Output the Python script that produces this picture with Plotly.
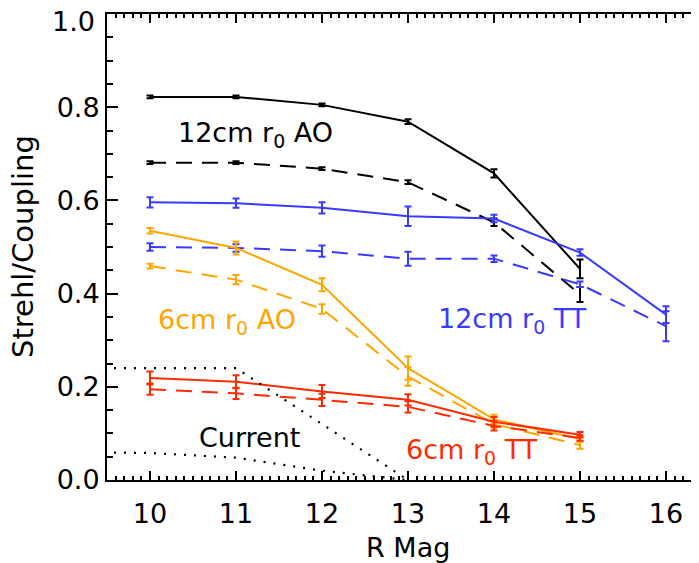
import plotly.graph_objects as go

# ---------------- data ----------------
mag = [10, 11, 12, 13, 14, 15]
mag16 = [10, 11, 12, 13, 14, 15, 16]

ao12_solid = [0.822, 0.822, 0.805, 0.769, 0.658, 0.453]
ao12_solid_err = [0.003, 0.003, 0.003, 0.005, 0.009, 0.020]
ao12_dash = [0.681, 0.681, 0.668, 0.639, 0.553, 0.398]
ao12_dash_err = [0.003, 0.003, 0.003, 0.004, 0.008, 0.016]

tt12_solid = [0.596, 0.594, 0.584, 0.566, 0.561, 0.488, 0.355]
tt12_solid_err = [0.011, 0.010, 0.012, 0.021, 0.008, 0.007, 0.018]
tt12_dash = [0.500, 0.498, 0.491, 0.475, 0.475, 0.420, 0.330]
tt12_dash_err = [0.008, 0.008, 0.012, 0.015, 0.007, 0.006, 0.032]

ao6_solid = [0.535, 0.498, 0.419, 0.240, 0.130, 0.088]
ao6_solid_err = [0.006, 0.014, 0.014, 0.025, 0.010, 0.006]
ao6_dash = [0.459, 0.430, 0.367, 0.222, 0.120, 0.075]
ao6_dash_err = [0.005, 0.010, 0.010, 0.020, 0.008, 0.008]

tt6_solid = [0.219, 0.211, 0.190, 0.172, 0.125, 0.097]
tt6_solid_err = [0.014, 0.014, 0.014, 0.012, 0.010, 0.006]
tt6_dash = [0.195, 0.186, 0.172, 0.157, 0.116, 0.090]
tt6_dash_err = [0.012, 0.012, 0.013, 0.012, 0.010, 0.006]

cur_mag = [9, 10, 11, 12, 13]
cur_upper = [0.240, 0.240, 0.240, 0.120, 0.000]
cur_lower = [0.060, 0.058, 0.048, 0.020, 0.000]

xticks = [10, 11, 12, 13, 14, 15, 16]
yticks = [0.0, 0.2, 0.4, 0.6, 0.8, 1.0]
ytick_text = ["0.0", "0.2", "0.4", "0.6", "0.8", ""]

BLACK = "#000000"
BLUE = "#3a3aff"
ORANGE = "#ffa500"
RED = "#ff2a00"
FONT = "DejaVu Sans"

# figure sits 8px in from the page corner (default body margin)
OFF = 8
W, H = 699 - OFF, 563 - OFF
L, R, T = 107 - OFF, 0, 14 - OFF
B = H - (480 - OFF)
PW = W - L - R
PH = H - T - B

fig = go.Figure()


def add_series(x, y, err, color, dash):
    fig.add_trace(go.Scatter(
        x=x, y=y, mode="lines",
        line=dict(color=color, width=2, dash=dash),
        error_y=dict(type="data", array=err, visible=True, color=color,
                     thickness=2, width=3.5),
        showlegend=False, hoverinfo="skip"))


DASH = "16px,10px"
add_series(mag, ao12_solid, ao12_solid_err, BLACK, "solid")
add_series(mag, ao12_dash, ao12_dash_err, BLACK, DASH)
add_series(mag16, tt12_solid, tt12_solid_err, BLUE, "solid")
add_series(mag16, tt12_dash, tt12_dash_err, BLUE, DASH)
add_series(mag, ao6_solid, ao6_solid_err, ORANGE, "solid")
add_series(mag, ao6_dash, ao6_dash_err, ORANGE, DASH)
add_series(mag, tt6_solid, tt6_solid_err, RED, "solid")
add_series(mag, tt6_dash, tt6_dash_err, RED, DASH)

for yy in (cur_upper, cur_lower):
    fig.add_trace(go.Scatter(
        x=cur_mag, y=yy, mode="lines",
        line=dict(color=BLACK, width=2.2, dash="2px,8px"),
        showlegend=False, hoverinfo="skip"))

labels = [
    ("12cm r<sub>0</sub> AO", 11.23, 0.742, BLACK),
    ("6cm r<sub>0</sub> AO", 10.89, 0.340, ORANGE),
    ("12cm r<sub>0</sub> TT", 14.215, 0.342, BLUE),
    ("6cm r<sub>0</sub> TT", 13.74, 0.062, RED),
    ("Current", 11.16, 0.091, BLACK),
]
annotations = []
for txt, x, y, c in labels:
    annotations.append(dict(text=txt, x=x, y=y, xref="x", yref="y",
                             xanchor="center", yanchor="middle",
                             showarrow=False,
                             font=dict(family=FONT, size=27, color=c)))

annotations.append(dict(text="1.0", x=-10 / PW, y=1.0, xref="paper", yref="paper",
                        xanchor="right", yanchor="top", showarrow=False, yshift=10,
                        font=dict(family=FONT, size=27, color=BLACK)))
annotations.append(dict(text="Strehl/Coupling", x=-(L - (23 - OFF)) / PW, y=0.5,
                        xref="paper", yref="paper",
                        xanchor="center", yanchor="middle",
                        showarrow=False, textangle=-90,
                        font=dict(family=FONT, size=29, color=BLACK)))
annotations.append(dict(text="R Mag", x=13.0, y=-(547 - 480) / PH,
                        xref="x", yref="paper",
                        xanchor="center", yanchor="middle", showarrow=False,
                        font=dict(family=FONT, size=27, color=BLACK)))

fig.update_layout(
    width=W, height=H,
    margin=dict(l=L, r=R, t=T, b=B, autoexpand=False),
    paper_bgcolor="white", plot_bgcolor="white",
    font=dict(family=FONT, size=27, color=BLACK),
    annotations=annotations,
    xaxis=dict(range=[9.5, 9.5 + PW / 86], tickvals=xticks,
               ticks="inside", ticklen=9, tickwidth=2, tickcolor=BLACK,
               showline=True, linewidth=2, linecolor=BLACK, mirror="ticks",
               showgrid=False, zeroline=False, automargin=False,
               ticklabelstandoff=9,
               minor=dict(dtick=0.1, ticks="inside", ticklen=4, tickwidth=1.5,
                          tickcolor=BLACK, showgrid=False),
               tickfont=dict(family=FONT, size=27)),
    yaxis=dict(range=[0, 1.0], tickvals=yticks, ticktext=ytick_text,
               ticks="inside", ticklen=11, tickwidth=2, tickcolor=BLACK,
               showline=True, linewidth=2, linecolor=BLACK, mirror=False,
               showgrid=False, zeroline=False, automargin=False,
               minor=dict(dtick=0.05, ticks="inside", ticklen=6, tickwidth=1.5,
                          tickcolor=BLACK, showgrid=False),
               tickfont=dict(family=FONT, size=27)),
)

fig.write_html("out.html")
